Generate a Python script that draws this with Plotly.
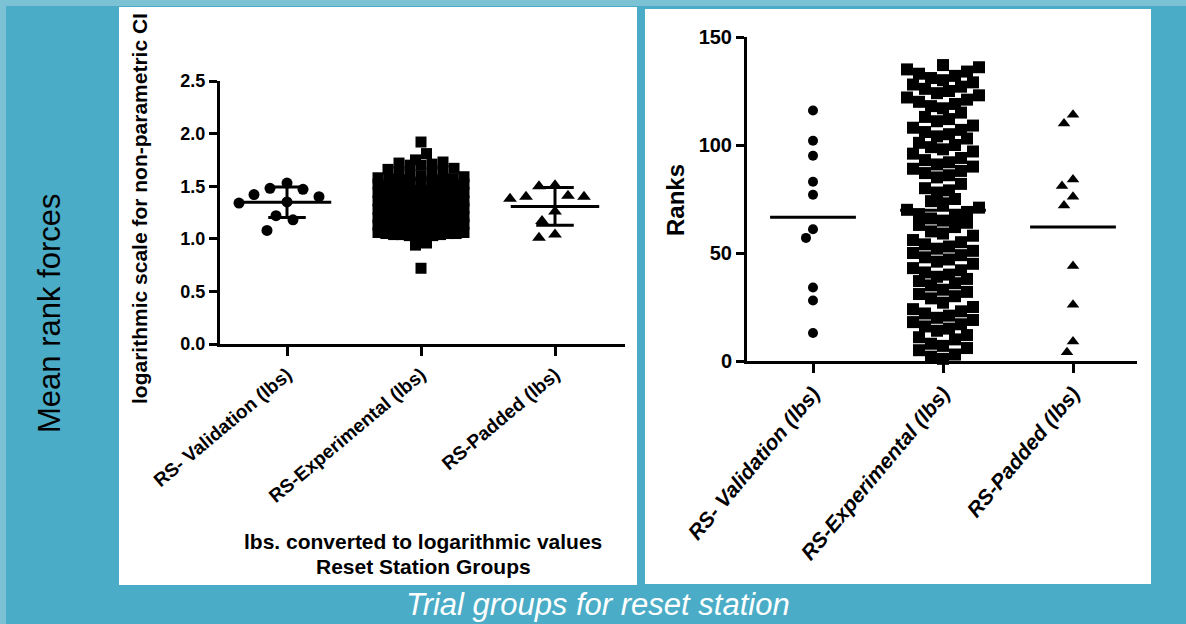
import plotly.graph_objects as go
from collections import defaultdict

W, H = 1186, 624

# ---------------- data ----------------
categories = ["RS- Validation (lbs)", "RS-Experimental (lbs)", "RS-Padded (lbs)"]

log_validation = [1.48, 1.53, 1.47, 1.42, 1.40, 1.35, 1.34, 1.22, 1.18, 1.08]
log_padded = [1.50, 1.51, 1.40, 1.38, 1.40, 1.41, 1.26, 1.17, 1.01, 1.04]
log_experimental = [
    1.92, 1.81,
    1.75, 1.73, 1.72, 1.71, 1.70, 1.70,
    1.67, 1.66, 1.65, 1.64, 1.63,
    1.61, 1.60, 1.59, 1.58, 1.57, 1.57, 1.56, 1.56,
    1.55, 1.54, 1.53, 1.52, 1.52, 1.51, 1.50, 1.50, 1.49, 1.49, 1.48, 1.48, 1.48,
    1.47, 1.46, 1.46, 1.46, 1.45, 1.45, 1.44, 1.44, 1.43, 1.43, 1.42, 1.42,
    1.41, 1.40, 1.40, 1.40, 1.39, 1.39, 1.38, 1.38, 1.37, 1.37, 1.37, 1.36, 1.36,
    1.35, 1.34, 1.34, 1.33, 1.33, 1.32, 1.32, 1.31, 1.31, 1.30, 1.30,
    1.29, 1.28, 1.28, 1.27, 1.27, 1.26, 1.26, 1.25, 1.25, 1.24, 1.24, 1.23, 1.22,
    1.21, 1.20, 1.20, 1.19, 1.19, 1.18, 1.17, 1.16, 1.15, 1.15, 1.14,
    1.13, 1.12, 1.11, 1.10, 1.10, 1.09, 1.08, 1.08,
    1.07, 1.06, 1.06, 1.05, 1.05, 1.05, 1.04, 1.04, 1.04, 1.03, 1.03, 1.02, 1.02,
    0.96, 0.94,
    0.72,
]

rank_validation = [116, 102, 95, 83, 77, 61, 57, 34, 28, 13]
rank_padded = [114, 110, 84, 81, 76, 72, 44, 26, 9, 4]
rank_experimental = [
    1, 2, 3, 5, 6, 7, 8, 10, 11, 12, 14, 15, 16, 17, 18, 19, 20, 21, 22, 23,
    24, 25, 27, 29, 30, 31, 32, 33, 35, 36, 37, 38, 39, 40, 41, 42, 43, 45, 46,
    47, 48, 49, 50, 51, 52, 53, 54, 55, 56, 58, 59, 60, 62, 63, 64, 65, 66, 67,
    68, 69, 70, 71, 73, 74, 75, 78, 79, 80, 82, 85, 86, 87, 88, 89, 90, 91, 92,
    93, 94, 96, 97, 98, 99, 100, 101, 103, 104, 105, 106, 107, 108, 109, 111,
    112, 113, 115, 117, 118, 119, 120, 121, 122, 123, 124, 125, 126, 127, 128,
    129, 130, 131, 132, 133, 134, 135, 136, 137,
]

left_yticks = [0.0, 0.5, 1.0, 1.5, 2.0, 2.5]
right_yticks = [0, 50, 100, 150]

# ---------------- helpers ----------------
def px(x):
    return x / W

def py(y):
    return 1 - y / H

def mean(v):
    return sum(v) / len(v)

def sd(v):
    m = mean(v)
    return (sum((a - m) ** 2 for a in v) / (len(v) - 1)) ** 0.5

def swarm_bins(vals, center, ypx, xpx, binh, spacing, maxw):
    bins = defaultdict(list)
    for i, v in enumerate(vals):
        bins[int(v * ypx // binh)].append(i)
    xs = [center] * len(vals)
    for _, idx in bins.items():
        idx = sorted(idx, key=lambda i: vals[i])
        n = len(idx)
        sp = spacing if n <= 1 else min(spacing, maxw / (n - 1))
        slots = [(k - (n - 1) / 2) * sp for k in range(n)]
        slots.sort(key=lambda s: (abs(s), s))
        for i, s in zip(idx, slots):
            xs[i] = center + s / xpx
    return xs

def swarm_greedy(vals, center, ypx, xpx, d):
    order = sorted(range(len(vals)), key=lambda i: -vals[i])
    placed = []
    xs = [center] * len(vals)
    cands = sorted([k * 1.0 for k in range(-60, 61)], key=lambda s: (abs(s), s))
    for i in order:
        yp = vals[i] * ypx
        for c in cands:
            if all((c - pxo) ** 2 + (yp - pyo) ** 2 >= d * d for pxo, pyo in placed):
                placed.append((c, yp))
                xs[i] = center + c / xpx
                break
    return xs

# axis geometry (pixels)
L_X0, L_X1, L_Y0, L_Y1 = 220, 625, 344, 81
R_X0, R_X1, R_Y0, R_Y1 = 747, 1137, 361, 37
L_XPX, L_YPX = 134.0, (L_Y0 - L_Y1) / 2.5
R_XPX, R_YPX = 130.0, (R_Y0 - R_Y1) / 150.0

fig = go.Figure()

# ---------------- left panel ----------------
lx_val = swarm_greedy(log_validation, 1, L_YPX, L_XPX, 17)
lx_exp = swarm_bins(log_experimental, 2, L_YPX, L_XPX, 8, 11, 86)
lx_pad = swarm_greedy(log_padded, 3, L_YPX, L_XPX, 16)

fig.add_trace(go.Scatter(x=lx_val, y=log_validation, mode="markers", xaxis="x", yaxis="y",
                         marker=dict(symbol="circle", size=11, color="black"), cliponaxis=False))
fig.add_trace(go.Scatter(x=lx_exp, y=log_experimental, mode="markers", xaxis="x", yaxis="y",
                         marker=dict(symbol="square", size=11, color="black"), cliponaxis=False))
fig.add_trace(go.Scatter(x=lx_pad, y=log_padded, mode="markers", xaxis="x", yaxis="y",
                         marker=dict(symbol="triangle-up", size=12, color="black"), cliponaxis=False))

for c, vals in zip([1, 2, 3], [log_validation, log_experimental, log_padded]):
    m, s = mean(vals), sd(vals)
    fig.add_trace(go.Scatter(x=[c - 0.33, c + 0.33], y=[m, m], mode="lines", xaxis="x", yaxis="y",
                             line=dict(color="black", width=3), cliponaxis=False))
    fig.add_trace(go.Scatter(x=[c, c], y=[m - s, m + s], mode="lines", xaxis="x", yaxis="y",
                             line=dict(color="black", width=3), cliponaxis=False))
    for yy in (m - s, m + s):
        fig.add_trace(go.Scatter(x=[c - 0.14, c + 0.14], y=[yy, yy], mode="lines", xaxis="x", yaxis="y",
                                 line=dict(color="black", width=3), cliponaxis=False))

# ---------------- right panel ----------------
rx_val = swarm_greedy(rank_validation, 1, R_YPX, R_XPX, 11)
rx_exp = swarm_bins(rank_experimental, 2, R_YPX, R_XPX, 14, 12, 84)
rx_pad = swarm_greedy(rank_padded, 3, R_YPX, R_XPX, 12)

fig.add_trace(go.Scatter(x=rx_val, y=rank_validation, mode="markers", xaxis="x2", yaxis="y2",
                         marker=dict(symbol="circle", size=10, color="black"), cliponaxis=False))
fig.add_trace(go.Scatter(x=rx_exp, y=rank_experimental, mode="markers", xaxis="x2", yaxis="y2",
                         marker=dict(symbol="square", size=12, color="black"), cliponaxis=False))
fig.add_trace(go.Scatter(x=rx_pad, y=rank_padded, mode="markers", xaxis="x2", yaxis="y2",
                         marker=dict(symbol="triangle-up", size=11, color="black"), cliponaxis=False))

for c, vals in zip([1, 2, 3], [rank_validation, rank_experimental, rank_padded]):
    m = mean(vals)
    fig.add_trace(go.Scatter(x=[c - 0.33, c + 0.33], y=[m, m], mode="lines", xaxis="x2", yaxis="y2",
                             line=dict(color="black", width=3), cliponaxis=False))

# ---------------- layout ----------------
TEAL = "#4AACC6"
LIGHT = "#7CC2D5"
shapes = [
    dict(type="rect", xref="paper", yref="paper", x0=0, x1=1, y0=py(6), y1=1,
         fillcolor=LIGHT, line=dict(width=0), layer="below"),
    dict(type="rect", xref="paper", yref="paper", x0=0, x1=px(6), y0=0, y1=1,
         fillcolor=LIGHT, line=dict(width=0), layer="below"),
    dict(type="rect", xref="paper", yref="paper", x0=px(119), x1=px(637), y0=py(585), y1=py(7),
         fillcolor="white", line=dict(width=0), layer="below"),
    dict(type="rect", xref="paper", yref="paper", x0=px(645), x1=px(1151), y0=py(584), y1=py(9),
         fillcolor="white", line=dict(width=0), layer="below"),
]

BOLD = dict(family="Liberation Sans, Arial, sans-serif", color="black", weight="bold")
NARROW = dict(family="Liberation Sans Narrow, Arial Narrow, Liberation Sans, Arial", color="black", weight="bold")

axis_common = dict(showline=True, linecolor="black", linewidth=3, ticks="outside", automargin=False,
                   tickcolor="black", tickwidth=3, showgrid=False, zeroline=False, mirror=False)

fig.update_layout(
    width=W, height=H, margin=dict(l=0, r=0, t=0, b=0, autoexpand=False),
    paper_bgcolor=TEAL, plot_bgcolor="rgba(0,0,0,0)", showlegend=False,
    shapes=shapes,
    xaxis=dict(domain=[px(L_X0), px(L_X1)], range=[0.5, 3 + (L_X1 - 555) / L_XPX], anchor="y",
               tickvals=[1, 2, 3], ticktext=categories, tickangle=-40, ticklen=9,
               tickfont=dict(size=19, **BOLD), **axis_common),
    yaxis=dict(domain=[py(L_Y0), py(L_Y1)], range=[0, 2.5], anchor="x",
               tickvals=left_yticks, ticktext=[f"{t:.1f}" for t in left_yticks], ticklen=8,
               tickfont=dict(size=18, **BOLD), **axis_common),
    xaxis2=dict(domain=[px(R_X0), px(R_X1)], range=[1 - (813 - R_X0) / R_XPX, 3 + (R_X1 - 1073) / R_XPX],
                anchor="y2", tickvals=[1, 2, 3], ticktext=categories, tickangle=-50, ticklen=9,
                tickfont=dict(size=21, style="italic", **BOLD), **axis_common),
    yaxis2=dict(domain=[py(R_Y0), py(R_Y1)], range=[0, 150], anchor="x2",
                tickvals=right_yticks, ticklen=8,
                tickfont=dict(size=20, **NARROW), **axis_common),
    annotations=[
        dict(text="logarithmic scale for non-parametric CI", xref="paper", yref="paper",
             x=px(140), y=py(209), textangle=-90, showarrow=False, xanchor="center", yanchor="middle",
             font=dict(size=21, **BOLD)),
        dict(text="lbs. converted to logarithmic values", xref="paper", yref="paper",
             x=px(423), y=py(541), showarrow=False, xanchor="center", yanchor="middle",
             font=dict(size=21, **BOLD)),
        dict(text="Reset Station Groups", xref="paper", yref="paper",
             x=px(423), y=py(566), showarrow=False, xanchor="center", yanchor="middle",
             font=dict(size=21, **BOLD)),
        dict(text="Ranks", xref="paper", yref="paper",
             x=px(676), y=py(200), textangle=-90, showarrow=False, xanchor="center", yanchor="middle",
             font=dict(size=24, **BOLD)),
        dict(text="Mean rank forces", xref="paper", yref="paper",
             x=px(49), y=py(313), textangle=-90, showarrow=False, xanchor="center", yanchor="middle",
             font=dict(size=31, family="Liberation Sans, Arial, sans-serif", color="black")),
        dict(text="Trial groups for reset station", xref="paper", yref="paper",
             x=px(598), y=py(604), showarrow=False, xanchor="center", yanchor="middle",
             font=dict(size=31, family="Liberation Sans, Arial, sans-serif",
                       color="white", style="italic")),
    ],
)

fig.write_html(
    "out.html",
    config={"displayModeBar": False},
    post_script="document.body.style.margin='0';document.body.style.padding='0';document.body.style.overflow='hidden';",
)
